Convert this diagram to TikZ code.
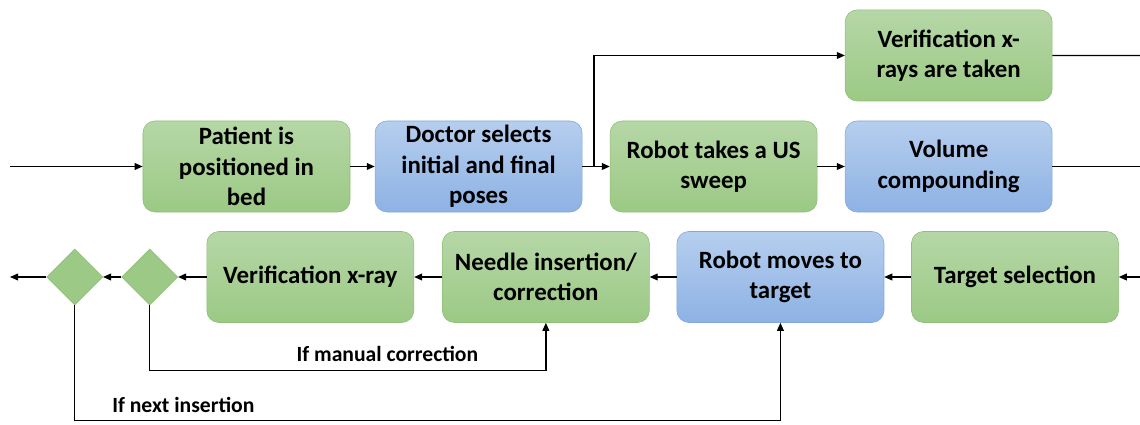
\documentclass[tikz,border=0pt]{standalone}
\usepackage{fontspec}
\setmainfont{Carlito}
\usepackage{tikz}
\usetikzlibrary{shapes.geometric,arrows.meta}
\definecolor{greenTop}{HTML}{B5D7A6}
\definecolor{greenBot}{HTML}{9CC985}
\definecolor{greenLine}{HTML}{8DBF76}
\definecolor{blueTop}{HTML}{B6CEEE}
\definecolor{blueBot}{HTML}{8DB2E4}
\definecolor{blueLine}{HTML}{7FA7DD}
\tikzset{
    state/.style={
           rectangle,
           rounded corners=0.3cm,
           minimum width=5.175cm,
           minimum height=2.275cm,
           inner sep=2pt,
           align=center,
           font=\fontsize{17.7}{21.6}\selectfont\bfseries,
           },
    greenstate/.style={state, draw=greenLine, top color=greenTop, bottom color=greenBot},
    bluestate/.style={state, draw=blueLine, top color=blueTop, bottom color=blueBot},
    check/.style={
           diamond,
           fill=greenBot,
           draw=greenLine,
           minimum width=1.4cm,
           minimum height=1.4cm,
           inner sep=0pt,
           },
    flow/.style={-{Triangle[length=2mm,width=1.7mm]}, line width=0.9pt},
    cond/.style={font=\fontsize{15.4}{18}\selectfont\bfseries},
}

\begin{document}
\begin{tikzpicture}[x=0.025cm, y=-0.025cm]
    \useasboundingbox (0,0) rectangle (1140,425);

    % top row: preparation and scan
    \node[greenstate] (patient) at (246.5,166.5)
    {Patient is\\positioned in\\bed};

    \node[bluestate,
    right of=patient,
    node distance=5.8cm] (doctor)
    {Doctor selects\\initial and final\\poses};

    \node[greenstate,
    right of=doctor,
    node distance=5.875cm] (sweep)
    {Robot takes a US\\sweep};

    \node[bluestate,
    right of=sweep,
    node distance=5.875cm] (volume)
    {Volume\\compounding};

    \node[greenstate,
    above of=volume,
    node distance=2.775cm] (xray)
    {Verification x-\\rays are taken};

    % bottom row: insertion loop, right to left
    \node[greenstate] (target) at (1015,277)
    {Target selection};

    \node[bluestate,
    left of=target,
    node distance=5.8625cm] (robot)
    {Robot moves to\\target};

    \node[greenstate,
    left of=robot,
    node distance=5.8625cm] (needle)
    {Needle insertion/\\correction};

    \node[greenstate,
    left of=needle,
    node distance=5.8875cm] (verify)
    {Verification x-ray};

    \node[check,
    left of=verify,
    node distance=4.0125cm] (manual) {};

    \node[check,
    left of=manual,
    node distance=1.875cm] (next) {};

    % free ends at the picture border
    \coordinate (start) at (10,166.5);
    \coordinate (split) at (594,166.5);
    \coordinate (outxray) at (1140,55.5);
    \coordinate (outvol) at (1140,166.5);
    \coordinate (intarget) at (1140,277);
    \coordinate (finish) at (10,277);

    % draw the paths
    \draw[flow] (start) -- (patient);
    \draw[flow] (patient) -- (doctor);
    \draw[flow] (doctor) -- (sweep);
    \draw[flow] (split) |- (xray);
    \draw[flow] (sweep) -- (volume);
    \draw[line width=0.9pt] (xray) -- (outxray);
    \draw[line width=0.9pt] (volume) -- (outvol);

    \draw[flow] (intarget) -- (target);
    \draw[flow] (target) -- (robot);
    \draw[flow] (robot) -- (needle);
    \draw[flow] (needle) -- (verify);
    \draw[flow] (verify) -- (manual);
    \draw[flow] (manual) -- (next);
    \draw[flow] (next) -- (finish);

    % loops back
    \draw[flow] (manual.south) -- ++(0,-1.625cm)
        -| node[cond, above=0.08cm, pos=0.3] {If manual correction} (needle.south);
    \draw[flow] (next.south) -- ++(0,-2.875cm)
        -| node[cond, above=0.06cm, pos=0.077] {If next insertion} (robot.south);
\end{tikzpicture}
\end{document}
